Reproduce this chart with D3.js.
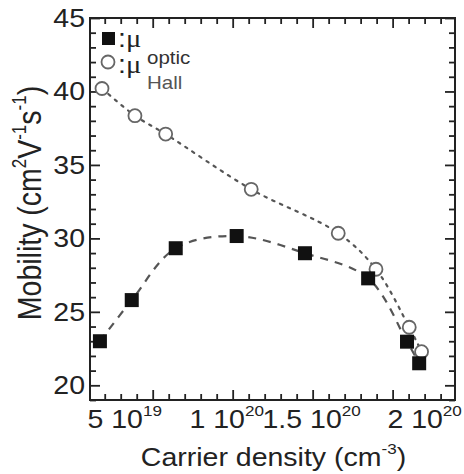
<!DOCTYPE html>
<html><head><meta charset="utf-8">
<script src="https://cdn.jsdelivr.net/npm/d3@7/dist/d3.min.js"></script>
<style>
body{margin:0;background:#fff;}
svg{display:block;font-family:"Liberation Sans",Arial,Helvetica,sans-serif;}
</style></head>
<body>
<svg id="c" width="464" height="474"></svg>
<script>
// carrier density in units of 1e19 cm^-3, mobility in cm^2 V^-1 s^-1
const densityMu   = [1.7, 3.69, 6.44, 10.25, 14.52, 18.47, 20.9, 21.66];
const mobilityMu  = [23.0, 25.8, 29.33, 30.16, 28.99, 27.28, 22.97, 21.5];
const densityHall = [1.83, 3.89, 5.81, 11.16, 16.6, 18.96, 21.04, 21.81];
const mobilityHall= [40.2, 38.35, 37.1, 33.34, 30.35, 27.9, 23.95, 22.29];
const xTickValues = [5, 10, 15, 20];
const xTickMant   = ["5 10", "1 10", "1.5 10", "2 10"];
const xTickExp    = ["19", "20", "20", "20"];
const yTickValues = [20, 25, 30, 35, 40, 45];

const svg = d3.select("#c");
const L = 90, R = 455, T = 18, B = 400;
const x = d3.scaleLinear().domain([1.08, 23.9]).range([L, R]);
const y = d3.scaleLinear().domain([19, 45]).range([B, T]);
const SX = 1.14; // horizontal stretch of glyphs in the source
const ink = "#222";

// axes with inward ticks on all four sides
const xMinor = d3.range(2, 24, 1).filter(v => !xTickValues.includes(v));
const yMinor = d3.range(19, 46, 1).filter(v => !yTickValues.includes(v));
function axisPair(axisFn, scale, tx, ty, major, minor) {
  const g = svg.append("g").attr("transform", `translate(${tx},${ty})`);
  g.append("g").call(axisFn(scale).tickValues(minor).tickSize(-6).tickFormat(""));
  g.append("g").call(axisFn(scale).tickValues(major).tickSize(-10).tickFormat(""));
  g.selectAll(".domain").remove();
  g.selectAll(".tick line").attr("stroke", ink).attr("stroke-width", 1.8);
}
axisPair(d3.axisBottom, x, 0, B, xTickValues, xMinor);
axisPair(d3.axisTop, x, 0, T, xTickValues, xMinor);
axisPair(d3.axisLeft, y, L, 0, yTickValues, yMinor);
axisPair(d3.axisRight, y, R, 0, yTickValues, yMinor);
svg.append("rect").attr("x", L).attr("y", T).attr("width", R - L).attr("height", B - T)
  .attr("fill", "none").attr("stroke", ink).attr("stroke-width", 2);

// y tick labels
yTickValues.forEach(v => {
  svg.append("g").attr("transform", `translate(${L - 5},${y(v)}) scale(${SX},1)`)
    .append("text").attr("text-anchor", "end").attr("dy", "0.36em")
    .attr("font-size", 25).attr("fill", ink).text(v);
});
// x tick labels
const nudge = [-28, -6, -1, 32];
xTickValues.forEach((v, i) => {
  const t = svg.append("g").attr("transform", `translate(${x(v) + nudge[i]},428) scale(${SX},1)`)
    .append("text").attr("text-anchor", "middle").attr("font-size", 25).attr("fill", ink);
  t.append("tspan").text(xTickMant[i]);
  t.append("tspan").attr("font-size", 15).attr("dy", -12).text(xTickExp[i]);
});

// axis titles
const xt = svg.append("g").attr("transform", `translate(${(L + R) / 2 + 1},466) scale(${SX},1)`)
  .append("text").attr("text-anchor", "middle").attr("font-size", 25).attr("fill", ink);
xt.append("tspan").text("Carrier density (cm");
xt.append("tspan").attr("font-size", 15).attr("dy", -12).text("-3");
xt.append("tspan").attr("dy", 12).text(")");

const yt = svg.append("g").attr("transform", `translate(41,203) scale(${SX},1) rotate(-90)`)
  .append("text").attr("text-anchor", "middle").attr("font-size", 28.5).attr("fill", ink);
yt.append("tspan").text("Mobility (cm");
yt.append("tspan").attr("font-size", 17).attr("dy", -13).text("2");
yt.append("tspan").attr("dy", 13).text("V");
yt.append("tspan").attr("font-size", 17).attr("dy", -13).text("-1");
yt.append("tspan").attr("dy", 13).text("s");
yt.append("tspan").attr("font-size", 17).attr("dy", -13).text("-1");
yt.append("tspan").attr("dy", 13).text(")");

// lines
const lineFn = d3.line().x(d => x(d[0])).y(d => y(d[1])).curve(d3.curveCatmullRom.alpha(0.5));
const hallData = densityHall.map((d, i) => [d, mobilityHall[i]]);
const muData = densityMu.map((d, i) => [d, mobilityMu[i]]);
svg.append("path").attr("d", lineFn(hallData)).attr("fill", "none")
  .attr("stroke", "#555").attr("stroke-width", 2.2).attr("stroke-dasharray", "2.5,6")
  .attr("stroke-linecap", "round");
svg.append("path").attr("d", lineFn(muData)).attr("fill", "none")
  .attr("stroke", "#555").attr("stroke-width", 2.2).attr("stroke-dasharray", "8,7");

// markers
svg.append("g").selectAll("circle").data(hallData).join("circle")
  .attr("cx", d => x(d[0])).attr("cy", d => y(d[1])).attr("r", 6.5)
  .attr("fill", "#fff").attr("stroke", "#666").attr("stroke-width", 1.8);
const sq = 14;
svg.append("g").selectAll("rect").data(muData).join("rect")
  .attr("x", d => x(d[0]) - sq / 2).attr("y", d => y(d[1]) - sq / 2)
  .attr("width", sq).attr("height", sq).attr("fill", "#111");

// legend
svg.append("rect").attr("x", 102).attr("y", 32).attr("width", 13).attr("height", 13).attr("fill", "#111");
svg.append("circle").attr("cx", 108).attr("cy", 62).attr("r", 6.5)
  .attr("fill", "#fff").attr("stroke", "#666").attr("stroke-width", 1.8);
const l1 = svg.append("g").attr("transform", `translate(118,47) scale(${SX},1)`)
  .append("text").attr("font-size", 25).attr("fill", ink);
l1.append("tspan").text(":");
l1.append("tspan").attr("font-family", "Liberation Serif, serif").text("μ");
const l2 = svg.append("g").attr("transform", `translate(118,73) scale(${SX},1)`)
  .append("text").attr("font-size", 25).attr("fill", ink);
l2.append("tspan").text(":");
l2.append("tspan").attr("font-family", "Liberation Serif, serif").text("μ");
svg.append("g").attr("transform", `translate(147,64) scale(${SX},1)`)
  .append("text").attr("font-size", 18).attr("fill", "#333").text("optic");
svg.append("g").attr("transform", `translate(147,89) scale(${SX},1)`)
  .append("text").attr("font-size", 18).attr("fill", "#555").text("Hall");
</script>
</body></html>
